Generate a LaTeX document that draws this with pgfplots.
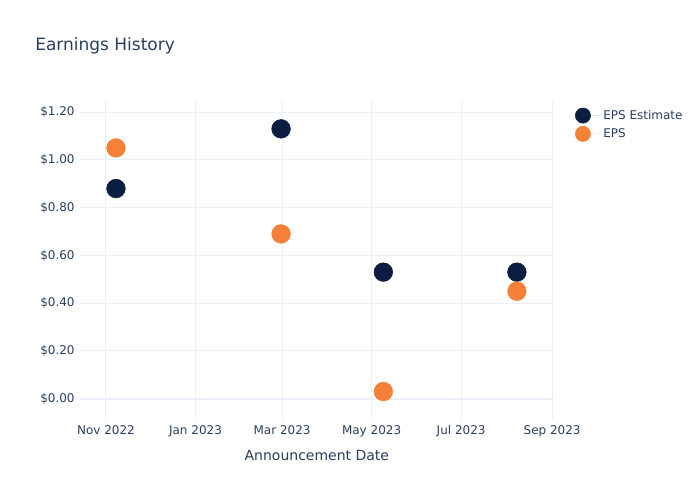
\documentclass[border=0pt]{standalone}
\usepackage{pgfplots}
\pgfplotsset{compat=1.18}
\usepackage{fontspec}
\setmainfont{DejaVu Sans}
\definecolor{txt}{RGB}{42,63,95}
\definecolor{gridc}{RGB}{235,240,248}
\definecolor{navy}{RGB}{11,30,63}
\definecolor{orng}{RGB}{245,128,55}
\begin{document}
\begin{tikzpicture}
\path (0,0) rectangle (525pt,375pt);
\node[anchor=west, text=txt, font=\fontsize{12.75pt}{15pt}\selectfont, inner sep=0pt] at (26.25pt,340.5pt) {Earnings History};
\begin{axis}[
  at={(60pt,59.5pt)}, anchor=south west,
  width=355.3pt, height=240pt, scale only axis,
  xmin=-17.7, xmax=305.1, ymin=-0.092, ymax=1.248,
  axis line style={draw=none},
  major tick length=0pt,
  grid=major,
  major grid style={color=gridc, line width=0.75pt},
  xtick={0,61,120,181,242,304},
  xticklabels={Nov 2022, Jan 2023, Mar 2023, May 2023, Jul 2023, Sep 2023},
  ytick={0,0.2,0.4,0.6,0.8,1.0,1.2},
  yticklabels={\$0.00,\$0.20,\$0.40,\$0.60,\$0.80,\$1.00,\$1.20},
  ticklabel style={font=\fontsize{9pt}{11pt}\selectfont, text=txt},
  xticklabel style={yshift=-0.5pt, text height=6.6pt, text depth=1.8pt},
  yticklabel style={xshift=-0.5pt},
  xlabel={Announcement Date},
  xlabel style={font=\fontsize{10.5pt}{12pt}\selectfont, text=txt, yshift=-3pt},
  clip=false,
  legend style={at={(1.045,0.98)}, anchor=north west, draw=none, fill=none,
    font=\fontsize{9pt}{11pt}\selectfont, text=txt, row sep=1.5pt,
    inner sep=0pt, cells={anchor=west}},
  legend image code/.code={\draw[#1, mark size=5.7pt] plot coordinates {(0.2cm,0cm)};
     \path[draw=none] (0.2cm,0cm) -- ++(13.3pt,0pt);},
]
\addplot[forget plot, color=gridc, line width=1.5pt] coordinates {(-17.7,0) (305.1,0)};
\addplot[only marks, mark=*, mark size=7pt, color=navy, fill=navy] coordinates {
(6.8,0.88) (119.3,1.13) (189,0.53) (280,0.53)};
\addlegendentry{EPS Estimate}
\addplot[only marks, mark=*, mark size=7pt, color=orng, fill=orng] coordinates {
(6.8,1.05) (119.3,0.69) (189,0.03) (280,0.45)};
\addlegendentry{EPS}
\end{axis}
\end{tikzpicture}
\end{document}
